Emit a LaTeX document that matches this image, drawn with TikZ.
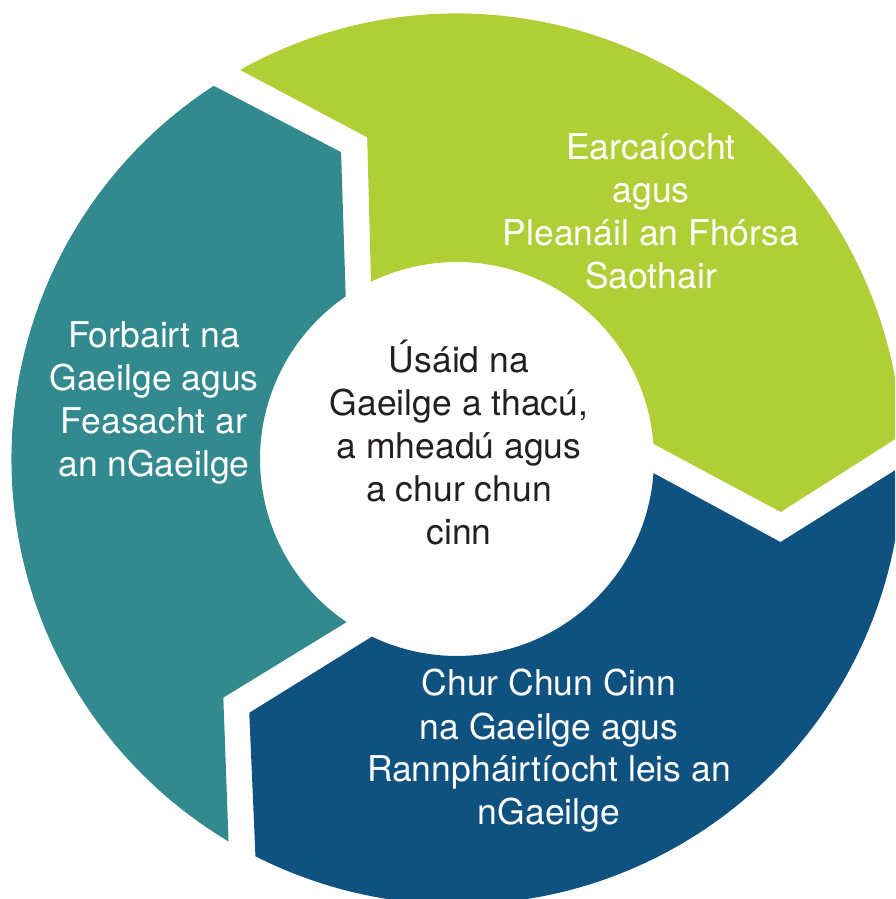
\documentclass[tikz,border=0pt]{standalone}
\usepackage{fontspec}
\setmainfont{TeX Gyre Heros}
\definecolor{tealc}{HTML}{338A8E}
\definecolor{greenc}{HTML}{B0CF37}
\definecolor{bluec}{HTML}{0F5280}
\definecolor{darktext}{HTML}{231F20}
\begin{document}
\begin{tikzpicture}[x=1pt,y=1pt,
  lbl/.style={align=center, font=\fontsize{35.5}{43}\selectfont, text=white, inner sep=0pt, anchor=base},
  midlbl/.style={lbl, text=darktext}]
\useasboundingbox (0,0) rectangle (895,899);
\clip (0,0) rectangle (895,899);
\begin{scope}[shift={(457,440)}]
  % teal segment (left)
  \fill[tealc] (123.1:445.5) arc[start angle=123.1, end angle=239.15, radius=445.5]
     -- (225.6:334) -- (235.9:197) arc[start angle=235.9, end angle=124.4, radius=197]
     -- (110.7:328) -- cycle;
  % green segment (top right)
  \fill[greenc] (119.15:445.5) arc[start angle=119.15, end angle=3.1, radius=445.5]
     -- (-9.3:328) -- (4.4:197) arc[start angle=4.4, end angle=115.9, radius=197]
     -- (105.6:334) -- cycle;
  % blue segment (bottom)
  \fill[bluec] (359.15:445.5) arc[start angle=359.15, end angle=243.1, radius=445.5]
     -- (230.7:328) -- (244.4:197) arc[start angle=244.4, end angle=355.9, radius=197]
     -- (345.6:334) -- cycle;
\end{scope}
% anchor=base of a multi-line node is the baseline of its last line
\node[lbl] (teallbl) at (154,422) {Forbairt na\\Gaeilge agus\\Feasacht ar\\an nGaeilge};
\node[lbl] (greenlbl) at (651,610) {Earcaíocht\\agus\\Pleanáil an Fhórsa\\Saothair};
\node[lbl] (bluelbl) at (549,74) {Chur Chun Cinn\\na Gaeilge agus\\Rannpháirtíocht leis an\\nGaeilge};
\node[midlbl] (midlbl) at (459,354) {Úsáid na\\Gaeilge a thacú,\\a mheadú agus\\a chur chun\\cinn};
\end{tikzpicture}
\end{document}
